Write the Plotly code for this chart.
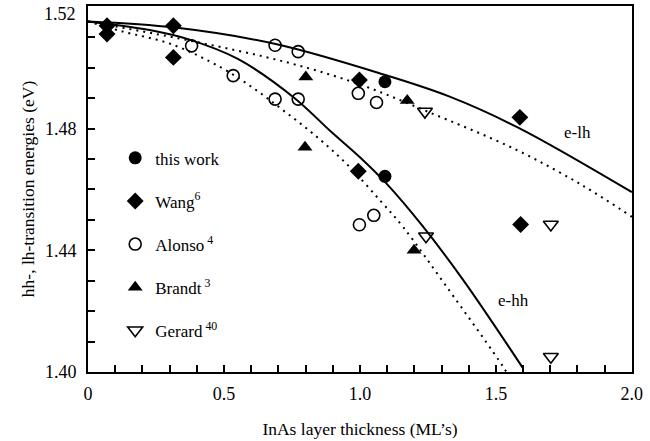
import plotly.graph_objects as go

# ---------------- data ----------------
thick_this = [1.092, 1.092]
e_this = [1.4954, 1.4643]

thick_wang = [0.07, 0.07, 0.314, 0.314, 0.998, 0.994, 1.588, 1.591]
e_wang = [1.5138, 1.5111, 1.5138, 1.5034, 1.4960, 1.4660, 1.4837, 1.4485]

thick_alonso = [0.381, 0.534, 0.688, 0.773, 0.688, 0.773, 0.994, 1.061, 0.998, 1.051]
e_alonso = [1.5072, 1.4974, 1.5074, 1.5053, 1.4897, 1.4897, 1.4916, 1.4886, 1.4484, 1.4515]

thick_brandt = [0.801, 0.798, 1.174, 1.199]
e_brandt = [1.4970, 1.4739, 1.4892, 1.4400]

thick_gerard = [1.239, 1.243, 1.702, 1.702]
e_gerard = [1.4856, 1.4446, 1.4485, 1.4050]

# theory curves
elh_x = [0, 0.32, 0.69, 1.09, 1.33, 1.58, 2.0]
elh_y = [1.5152, 1.5132, 1.5078, 1.4977, 1.4905, 1.4804, 1.4591]

elh_dot_x = [0, 0.37, 0.735, 1.0, 1.246, 1.576, 1.821, 2.0]
elh_dot_y = [1.5152, 1.5090, 1.5017, 1.4945, 1.4857, 1.4730, 1.4612, 1.4510]

ehh_x = [0, 0.245, 0.368, 0.551, 0.76, 0.89, 1.0, 1.098, 1.23, 1.38, 1.6]
ehh_y = [1.5152, 1.5121, 1.5094, 1.5029, 1.4900, 1.4793, 1.4706, 1.4619, 1.4480, 1.4302, 1.4012]

ehh_dot_x = [0, 0.123, 0.305, 0.489, 0.613, 0.715, 0.828, 0.951, 1.074, 1.16, 1.319, 1.527, 1.545]
ehh_dot_y = [1.5152, 1.5120, 1.5078, 1.5001, 1.4930, 1.4862, 1.4783, 1.4684, 1.4564, 1.4475, 1.4280, 1.4017, 1.3990]

x_ticks = [0, 0.5, 1.0, 1.5, 2.0]
x_tick_labels = ["0", "0.5", "1.0", "1.5", "2.0"]
y_ticks = [1.40, 1.44, 1.48, 1.52]
y_tick_labels = ["1.40", "1.44", "1.48", "1.52"]

FONT = "Liberation Serif"

fig = go.Figure()

line_style = dict(color="black", width=2)
dot_style = dict(color="black", width=2, dash="2px,5px")

for xs, ys, st in [(elh_x, elh_y, line_style), (elh_dot_x, elh_dot_y, dot_style),
                   (ehh_x, ehh_y, line_style), (ehh_dot_x, ehh_dot_y, dot_style)]:
    fig.add_trace(go.Scatter(x=xs, y=ys, mode="lines", line=st,
                             line_shape="spline", showlegend=False, hoverinfo="skip"))

series = [
    ("this work", thick_this, e_this, dict(symbol="circle", size=13, color="black")),
    ("Wang<sup>6</sup>", thick_wang, e_wang, dict(symbol="diamond", size=13, color="black")),
    ("Alonso<sup> 4</sup>", thick_alonso, e_alonso,
     dict(symbol="circle-open", size=12, color="black", line=dict(width=1.6, color="black"))),
    ("Brandt<sup> 3</sup>", thick_brandt, e_brandt, dict(symbol="triangle-up", size=13, color="black")),
    ("Gerard<sup> 40</sup>", thick_gerard, e_gerard,
     dict(symbol="triangle-down-open", size=13, color="black", line=dict(width=1.6, color="black"))),
]
for i, (name, xs, ys, mk) in enumerate(series):
    fig.add_trace(go.Scatter(x=xs, y=ys, mode="markers", name=name, marker=mk,
                             legendgroup=f"g{i}"))

fig.add_annotation(x=1.80, y=1.4787, text="e-lh", showarrow=False,
                   font=dict(family=FONT, size=17, color="black"))
fig.add_annotation(x=1.564, y=1.4236, text="e-hh", showarrow=False,
                   font=dict(family=FONT, size=17, color="black"))

# top y tick label drawn slightly below its tick (as in the original) so it is not cut off
y_axis_text = list(y_tick_labels)
top_label = y_axis_text[-1]
y_axis_text[-1] = ""
fig.add_annotation(xref="paper", x=0, xanchor="right", xshift=-10,
                   y=y_ticks[-1], yanchor="top", yshift=5, text=top_label, showarrow=False,
                   font=dict(family=FONT, size=18, color="black"))

axis_common = dict(showgrid=False, zeroline=False, showline=True, linecolor="black",
                   linewidth=2, mirror=True, ticks="inside", ticklen=7, tickwidth=1.5,
                   tickcolor="black", tickfont=dict(family=FONT, size=18, color="black"),
                   ticklabeloverflow="allow", automargin=False)

fig.update_xaxes(range=[0, 2.0005], tickvals=x_ticks, ticktext=x_tick_labels,
                 minor=dict(dtick=0.1, ticks="inside", ticklen=7, tickwidth=1.5, tickcolor="black"),
                 title=dict(text="InAs layer thickness (ML’s)", font=dict(family=FONT, size=17.5, color="black"),
                            standoff=20),
                 ticklabelstandoff=4, **axis_common)
fig.update_yaxes(range=[1.40, 1.5203], tickvals=y_ticks, ticktext=y_axis_text,
                 minor=dict(dtick=0.01, ticks="inside", ticklen=7, tickwidth=1.5, tickcolor="black"),
                 title=dict(text="hh-, lh-transition energies (eV)", font=dict(family=FONT, size=17.5, color="black"),
                            standoff=6),
                 ticklabelstandoff=6, **axis_common)

fig.update_layout(
    width=650, height=441,
    margin=dict(l=88, r=18, t=6, b=69),
    paper_bgcolor="white", plot_bgcolor="white",
    font=dict(family=FONT, size=17, color="black"),
    legend=dict(x=0.05, y=0.633, xanchor="left", yanchor="top", bgcolor="rgba(0,0,0,0)",
                tracegroupgap=18, font=dict(family=FONT, size=17, color="black")),
)

fig.write_html("out.html")
